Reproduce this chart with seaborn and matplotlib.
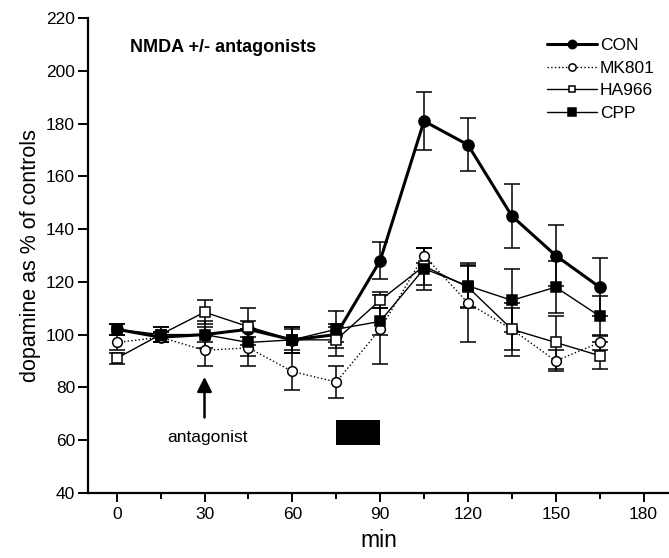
import numpy as np
import pandas as pd
import seaborn as sns
import matplotlib.pyplot as plt
from matplotlib.ticker import MultipleLocator

sns.set_style('ticks', {'axes.edgecolor': 'black', 'text.color': 'black',
                        'axes.labelcolor': 'black', 'xtick.color': 'black',
                        'ytick.color': 'black'})
plt.rcParams['font.family'] = ['Liberation Sans', 'DejaVu Sans']

# time points (min)
minutes = [0, 15, 30, 45, 60, 75, 90, 105, 120, 135, 150, 165]

# dopamine as % of controls
con = [102, 99, 100, 102, 98, 100, 128, 181, 172, 145, 130, 118]
con_err = [2, 2, 3, 3, 4, 3, 7, 11, 10, 12, 11.5, 11]
mk801 = [97, 99, 94, 95, 86, 82, 102, 130, 112, 102, 90, 97]
mk801_err = [3, 2, 6, 7, 7, 6, 13, 3, 15, 10, 4, 3]
ha966 = [91, 100, 108.5, 103, 98, 98, 113, 126, 118, 102, 97, 92]
ha966_err = [2, 3, 4.5, 7, 5, 6, 3, 7, 8, 8, 10, 5]
cpp = [102, 100, 100, 97, 98, 102, 105, 125, 118.5, 113, 118, 107]
cpp_err = [2, 3, 5, 5, 5, 7, 5, 8, 8, 12, 10, 7.5]

series = {
    'CON': (con, con_err, dict(marker='o', mfc='black', ms=8, lw=2.2, ls='-')),
    'MK801': (mk801, mk801_err, dict(marker='o', mfc='white', ms=7, lw=1.0, ls=':')),
    'HA966': (ha966, ha966_err, dict(marker='s', mfc='white', ms=6.5, lw=1.0, ls='-')),
    'CPP': (cpp, cpp_err, dict(marker='s', mfc='black', ms=7, lw=1.0, ls='-')),
}

fig = plt.figure(figsize=(6.69, 5.58), dpi=100)
ax = fig.add_axes([0.132, 0.117, 0.868, 0.8502])

for name, (vals, errs, st) in series.items():
    df = pd.DataFrame({'min': minutes, 'val': vals})
    ax.errorbar(minutes, vals, yerr=errs, fmt='none', ecolor='black',
                elinewidth=1.1, capsize=6, capthick=1.1, zorder=2)
    sns.lineplot(data=df, x='min', y='val', ax=ax, color='black',
                 marker=st['marker'], markerfacecolor=st['mfc'],
                 markeredgecolor='black', markeredgewidth=1.1,
                 markersize=st['ms'], linewidth=st['lw'], linestyle=st['ls'],
                 label=name, zorder=3)

# NMDA application bar and antagonist arrow
ax.fill_between([75, 90], 58, 67.5, color='black', lw=0)
ax.annotate('', xy=(30, 85), xytext=(30, 67.5),
            arrowprops=dict(arrowstyle='-|>', lw=1.8, color='black',
                            mutation_scale=22))
ax.text(31, 61, 'antagonist', ha='center', va='center', fontsize=12.5)
ax.text(4.5, 209, 'NMDA +/- antagonists', ha='left', va='center',
        fontsize=13, fontweight='bold')

ax.set_xlim(-9.7, 188.7)
ax.set_ylim(40, 220)
ax.set_xticks([0, 30, 60, 90, 120, 150, 180])
ax.xaxis.set_minor_locator(MultipleLocator(15))
ax.set_yticks(np.arange(40, 221, 20))
ax.tick_params(axis='x', which='major', direction='out', length=6.5,
               width=1.4, labelsize=12.5, pad=4)
ax.tick_params(axis='y', which='major', direction='out', length=7,
               width=1.4, labelsize=12.5, pad=2.5)
ax.tick_params(axis='x', which='minor', direction='out', length=4, width=1.4)
ax.set_xlabel('min', fontsize=16.5, labelpad=5)
ax.set_ylabel('dopamine as % of controls', fontsize=15.5, labelpad=4)
sns.despine(ax=ax)
for s in ['left', 'bottom']:
    ax.spines[s].set_linewidth(1.6)

leg = ax.legend(loc='upper left', bbox_to_anchor=(0.79, 0.958), frameon=False,
                fontsize=12.5, handlelength=2.9, handletextpad=0.15,
                labelspacing=0.42, borderpad=0, borderaxespad=0,
                markerscale=0.75)

fig.savefig('out.png', dpi=100)
